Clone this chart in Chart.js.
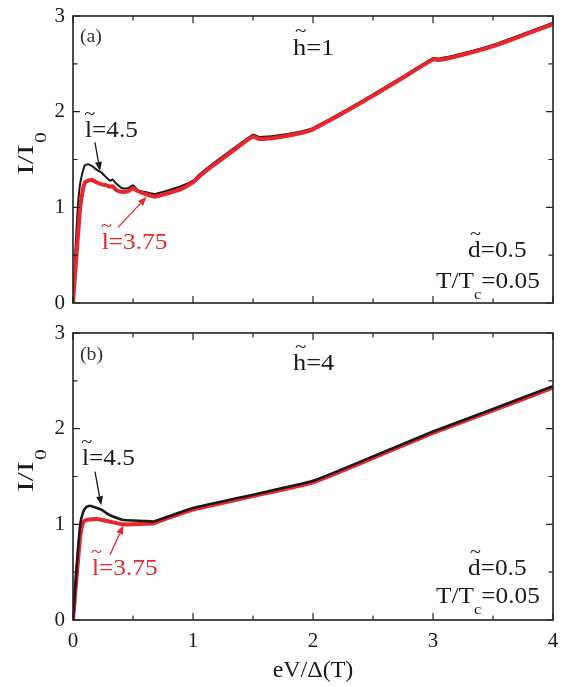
<!DOCTYPE html>
<html>
<head>
<meta charset="utf-8">
<script src="https://cdn.jsdelivr.net/npm/chart.js@4.4.1/dist/chart.umd.min.js"></script>
<style>
  html, body { margin: 0; padding: 0; background: #fff; }
  #wrap { position: relative; width: 570px; height: 687px; }
  #chartA { position: absolute; left: 0; top: 0; }
  #chartB { position: absolute; left: 0; top: 318px; }
</style>
</head>
<body>
<div id="wrap">
  <canvas id="chartA" width="570" height="318"></canvas>
  <canvas id="chartB" width="570" height="369"></canvas>
</div>
<script>
// panel (a): h~=1
const xA = [0, 0.02, 0.04, 0.06, 0.085, 0.1, 0.125, 0.16, 0.2, 0.24, 0.28, 0.31, 0.33, 0.36, 0.41, 0.46, 0.5, 0.54, 0.6, 0.68, 0.8, 0.9, 1.0, 1.05, 1.17, 1.3, 1.5, 1.55, 1.7, 1.89, 2.0, 2.25, 2.5, 2.75, 3.0, 3.05, 3.25, 3.53, 4.0];
const blackA = [0, 0.55, 1.0, 1.25, 1.39, 1.44, 1.45, 1.43, 1.39, 1.36, 1.31, 1.28, 1.29, 1.25, 1.2, 1.2, 1.23, 1.18, 1.16, 1.14, 1.18, 1.22, 1.28, 1.34, 1.46, 1.58, 1.76, 1.735, 1.75, 1.79, 1.83, 2.0, 2.18, 2.37, 2.56, 2.555, 2.61, 2.71, 2.93];
const redA = [0, 0.35, 0.68, 1.0, 1.2, 1.26, 1.28, 1.285, 1.26, 1.24, 1.23, 1.215, 1.22, 1.18, 1.16, 1.17, 1.2, 1.17, 1.14, 1.11, 1.15, 1.19, 1.26, 1.32, 1.44, 1.56, 1.74, 1.715, 1.73, 1.775, 1.815, 1.985, 2.165, 2.355, 2.545, 2.54, 2.595, 2.695, 2.915];

// panel (b): h~=4
const xB = [0, 0.03, 0.06, 0.085, 0.11, 0.14, 0.2, 0.24, 0.3, 0.39, 0.42, 0.5, 0.6, 0.67, 0.8, 1.0, 1.5, 2.0, 2.5, 3.0, 3.5, 4.0];
const blackB = [0, 0.55, 1.0, 1.13, 1.18, 1.195, 1.17, 1.15, 1.1, 1.055, 1.045, 1.04, 1.035, 1.03, 1.085, 1.17, 1.31, 1.455, 1.71, 1.97, 2.205, 2.445];
const redB = [0, 0.45, 0.87, 1.02, 1.045, 1.05, 1.055, 1.045, 1.03, 1.005, 1.0, 1.0, 1.005, 1.01, 1.07, 1.155, 1.295, 1.44, 1.695, 1.955, 2.19, 2.43];

const xTitle = "eV/\u0394(T)";
const RED = "#e8262b";
const BLACK = "#1a1a1a";
const FONT = '"Liberation Serif", "Times New Roman", serif';

// labels and arrows, placed in data units
const notesA = [
  { segs: [{ t: "(a)" }], x: 0.058, y: 2.73, size: 18, color: "#333" },
  { segs: [{ t: "h", tilde: true }, { t: "=1" }], x: 1.833, y: 2.59, size: 24 },
  { segs: [{ t: "l", tilde: true }, { t: "=4.5" }], x: 0.1, y: 1.735, size: 23 },
  { segs: [{ t: "l", tilde: true }, { t: "=3.75" }], x: 0.24, y: 0.56, size: 23, color: RED },
  { segs: [{ t: "d", tilde: true }, { t: "=0.5" }], x: 3.78, y: 0.48, size: 23, align: "right" },
  { segs: [{ t: "T/T" }, { t: "c", sub: true }, { t: "=0.05" }], x: 3.89, y: 0.155, size: 23, align: "right" },
];
const notesB = [
  { segs: [{ t: "(b)" }], x: 0.058, y: 2.72, size: 18, color: "#333" },
  { segs: [{ t: "h", tilde: true }, { t: "=4" }], x: 1.833, y: 2.61, size: 24 },
  { segs: [{ t: "l", tilde: true }, { t: "=4.5" }], x: 0.075, y: 1.62, size: 23 },
  { segs: [{ t: "l", tilde: true }, { t: "=3.75" }], x: 0.158, y: 0.47, size: 23, color: RED },
  { segs: [{ t: "d", tilde: true }, { t: "=0.5" }], x: 3.78, y: 0.47, size: 23, align: "right" },
  { segs: [{ t: "T/T" }, { t: "c", sub: true }, { t: "=0.05" }], x: 3.89, y: 0.178, size: 23, align: "right" },
];
const arrowsA = [
  { from: [0.183, 1.68], to: [0.225, 1.38], color: BLACK },
  { from: [0.375, 0.79], to: [0.614, 1.11], color: RED },
];
const arrowsB = [
  { from: [0.183, 1.55], to: [0.235, 1.2], color: BLACK },
  { from: [0.308, 0.68], to: [0.42, 0.99], color: RED },
];

function drawRich(ctx, segs, x, y, size, color, align) {
  const sx = 1.1;
  ctx.save();
  ctx.fillStyle = color;
  ctx.textBaseline = "alphabetic";
  ctx.textAlign = "left";
  let w = 0;
  segs.forEach(s => {
    ctx.font = (s.sub ? size * 0.65 : size) + "px " + FONT;
    s.w = ctx.measureText(s.t).width;
    w += s.w;
  });
  ctx.translate(x, y);
  ctx.scale(sx, 1);
  let cx = align === "right" ? -w : align === "center" ? -w / 2 : 0;
  segs.forEach(s => {
    ctx.font = (s.sub ? size * 0.65 : size) + "px " + FONT;
    ctx.fillText(s.t, cx, s.sub ? size * 0.48 : 0);
    if (s.tilde) {
      ctx.font = size * 0.8 + "px " + FONT;
      ctx.textAlign = "center";
      ctx.fillText("~", cx + s.w / 2 + 1, -size * 0.74);
      ctx.textAlign = "left";
    }
    cx += s.w;
  });
  ctx.restore();
}

function drawArrow(ctx, x0, y0, x1, y1, color) {
  const ang = Math.atan2(y1 - y0, x1 - x0);
  const hl = 9, hw = 3.5;
  ctx.save();
  ctx.strokeStyle = color;
  ctx.fillStyle = color;
  ctx.lineWidth = 1.3;
  ctx.beginPath();
  ctx.moveTo(x0, y0);
  ctx.lineTo(x1 - hl * Math.cos(ang), y1 - hl * Math.sin(ang));
  ctx.stroke();
  ctx.beginPath();
  ctx.moveTo(x1, y1);
  ctx.lineTo(x1 - hl * Math.cos(ang) + hw * Math.sin(ang), y1 - hl * Math.sin(ang) - hw * Math.cos(ang));
  ctx.lineTo(x1 - hl * Math.cos(ang) - hw * Math.sin(ang), y1 - hl * Math.sin(ang) + hw * Math.cos(ang));
  ctx.closePath();
  ctx.fill();
  ctx.restore();
}

const framePlugin = {
  id: "frame",
  afterDatasetsDraw(chart, args, opts) {
    const { ctx, chartArea: a, scales: { x, y } } = chart;
    ctx.save();
    // inward ticks on all four sides
    ctx.strokeStyle = "#222";
    ctx.lineWidth = 1.2;
    ctx.beginPath();
    x.ticks.forEach(t => {
      const px = x.getPixelForValue(t.value);
      const len = Math.abs(t.value % 1) < 1e-6 ? 7 : 4.5;
      ctx.moveTo(px, a.bottom); ctx.lineTo(px, a.bottom - len);
      ctx.moveTo(px, a.top); ctx.lineTo(px, a.top + len);
    });
    y.ticks.forEach(t => {
      const py = y.getPixelForValue(t.value);
      const len = Math.abs(t.value % 1) < 1e-6 ? 7 : 4.5;
      ctx.moveTo(a.left, py); ctx.lineTo(a.left + len, py);
      ctx.moveTo(a.right, py); ctx.lineTo(a.right - len, py);
    });
    ctx.stroke();
    ctx.lineWidth = 1.6;
    ctx.strokeRect(a.left, a.top, a.right - a.left, a.bottom - a.top);
    ctx.restore();

    opts.arrows.forEach(ar => {
      drawArrow(ctx,
        x.getPixelForValue(ar.from[0]), y.getPixelForValue(ar.from[1]),
        x.getPixelForValue(ar.to[0]), y.getPixelForValue(ar.to[1]), ar.color);
    });
    opts.notes.forEach(n => {
      drawRich(ctx, n.segs, x.getPixelForValue(n.x), y.getPixelForValue(n.y),
        n.size, n.color || BLACK, n.align || "left");
    });

    // y axis title I/I0
    ctx.save();
    ctx.fillStyle = BLACK;
    ctx.translate(33, a.top + 159);
    ctx.rotate(-Math.PI / 2);
    ctx.scale(1.35, 1);
    ctx.textBaseline = "alphabetic";
    ctx.font = "24px " + FONT;
    ctx.fillText("I/I", 0, 0);
    const w = ctx.measureText("I/I").width;
    ctx.font = "16px " + FONT;
    ctx.fillText("0", w + 1, 13);
    ctx.restore();
  }
};

function makeChart(id, xs, blk, red, redOnTop, bottomAxis, notes, arrows) {
  const pts = ys => xs.map((v, i) => ({ x: v, y: ys[i] }));
  return new Chart(document.getElementById(id), {
    type: "line",
    data: {
      datasets: [
        {
          label: "l=4.5",
          data: pts(blk),
          borderColor: BLACK,
          borderWidth: redOnTop ? 2 : 2.6,
          pointRadius: 0,
          tension: 0.15,
          order: redOnTop ? 1 : 0,
        },
        {
          label: "l=3.75",
          data: pts(red),
          borderColor: RED,
          borderWidth: 4,
          pointRadius: 0,
          tension: 0.15,
          order: redOnTop ? 0 : 1,
        },
      ],
    },
    options: {
      responsive: false,
      animation: false,
      layout: {
        padding: { top: bottomAxis ? 15 : 16, right: 17, bottom: bottomAxis ? 0 : 15, left: 0 },
      },
      scales: {
        x: {
          type: "linear",
          display: bottomAxis,
          min: 0,
          max: 4,
          ticks: {
            stepSize: 0.5,
            autoSkip: false,
            maxRotation: 0,
            padding: 9,
            color: BLACK,
            font: { family: FONT, size: 21 },
            callback: v => (v % 1 === 0 ? String(v) : ""),
          },
          grid: { display: false, drawTicks: false },
          border: { display: false },
          title: {
            display: true,
            text: xTitle,
            color: BLACK,
            font: { family: FONT, size: 24 },
            padding: { top: 0, bottom: 2 },
          },
          afterFit: s => {
            s.paddingLeft = 0;
            s.paddingRight = 0;
            if (bottomAxis) s.height = 67;
          },
        },
        y: {
          min: 0,
          max: 3,
          ticks: {
            stepSize: 0.5,
            padding: 8,
            color: BLACK,
            font: { family: FONT, size: 21 },
            callback: v => (v % 1 === 0 ? String(v) : ""),
          },
          grid: { display: false, drawTicks: false },
          border: { display: false },
          afterFit: s => {
            s.width = 73;
            s.paddingTop = 0;
            s.paddingBottom = 0;
          },
        },
      },
      plugins: {
        legend: { display: false },
        tooltip: { enabled: false },
        frame: { notes: notes, arrows: arrows },
      },
    },
    plugins: [framePlugin],
  });
}

makeChart("chartA", xA, blackA, redA, true, false, notesA, arrowsA);
makeChart("chartB", xB, blackB, redB, false, true, notesB, arrowsB);
</script>
</body>
</html>
